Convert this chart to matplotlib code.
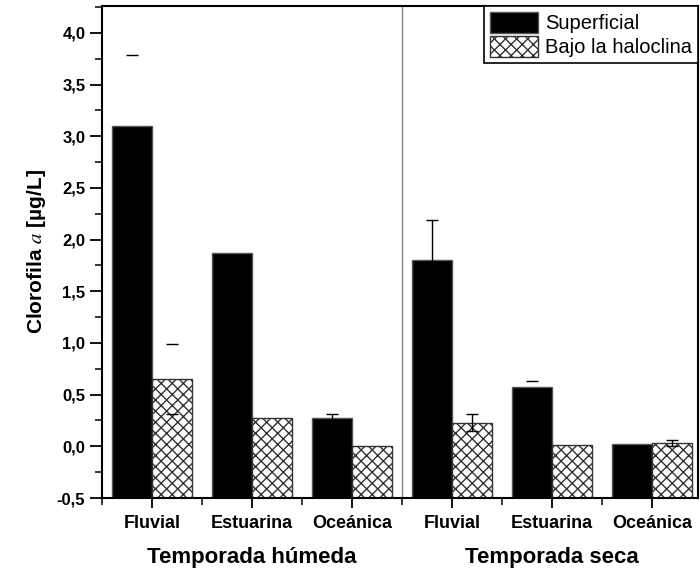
import matplotlib
matplotlib.use('Agg')
import matplotlib.pyplot as plt
from matplotlib.ticker import MultipleLocator, FixedLocator, FuncFormatter
import numpy as np

# chlorophyll a (ug/L) per zone, two seasons
zonas = ['Fluvial', 'Estuarina', 'Oceánica']
temporadas = ['Temporada húmeda', 'Temporada seca']

sup_humeda = [3.10, 1.875, 0.275]
sup_humeda_err = [0.69, 0.0, 0.04]
bajo_humeda = [0.65, 0.27, 0.0]
bajo_humeda_err = [0.34, 0.0, 0.0]

sup_seca = [1.80, 0.57, 0.02]
sup_seca_err = [0.39, 0.06, 0.0]
bajo_seca = [0.23, 0.01, 0.035]
bajo_seca_err = [0.08, 0.0, 0.03]

superficial = np.array(sup_humeda + sup_seca)
superficial_err = sup_humeda_err + sup_seca_err
bajo = np.array(bajo_humeda + bajo_seca)
bajo_err = bajo_humeda_err + bajo_seca_err

# error bars drawn only with caps (no stem) for these bars
sin_linea_sup = [0, 4]
sin_linea_bajo = [0]

plt.rcParams['font.family'] = ['Liberation Sans', 'DejaVu Sans']
plt.rcParams['mathtext.fontset'] = 'stix'
plt.rcParams['hatch.linewidth'] = 1.0
plt.rcParams['hatch.color'] = '#333333'

fig = plt.figure(figsize=(7, 5.75), dpi=100)
ax = fig.add_axes([0.1457, 0.1339, 0.8513, 0.8557])

x = np.arange(1, len(superficial) + 1)
w = 0.4
base = -0.5  # bars start at the bottom of the axis

ax.bar(x - w, superficial - base, bottom=base, width=w, align='edge',
       color='black', edgecolor='#555555', linewidth=1, label='Superficial',
       zorder=2)
ax.bar(x, bajo - base, bottom=base, width=w, align='edge', color='white',
       hatch='xxx', edgecolor='#333333', linewidth=1,
       label='Bajo la haloclina', zorder=2)


def barras_error(xs, ys, errs, sin_linea):
    for i, (xi, yi, ei) in enumerate(zip(xs, ys, errs)):
        if ei <= 0:
            continue
        lw = 0 if i in sin_linea else 1
        ax.errorbar(xi, yi, yerr=ei, fmt='none', ecolor='black',
                    elinewidth=lw, capsize=4, capthick=1, zorder=3)


barras_error(x - w / 2, superficial, superficial_err, sin_linea_sup)
barras_error(x + w / 2, bajo, bajo_err, sin_linea_bajo)

# season separator
ax.axvline(3.5, color='#888888', linewidth=1, zorder=1)

ax.set_xlim(0.5, 6.46)
ax.set_ylim(-0.5, 4.26)

ax.yaxis.set_major_locator(MultipleLocator(0.5))
ax.yaxis.set_minor_locator(MultipleLocator(0.25))
ax.yaxis.set_major_formatter(FuncFormatter(lambda v, p: f'{v:.1f}'.replace('.', ',')))

ax.set_xticks(x)
ax.set_xticklabels(zonas * 2)
ax.xaxis.set_minor_locator(FixedLocator([0.5, 1.5, 2.5, 3.5, 4.5, 5.5]))

ax.tick_params(axis='y', which='major', direction='out', length=9, width=1.3,
               labelsize=12, pad=3)
ax.tick_params(axis='y', which='minor', direction='out', length=5, width=1.1)
ax.tick_params(axis='x', which='major', direction='out', length=7, width=1.3,
               labelsize=13, pad=5)
ax.tick_params(axis='x', which='minor', direction='out', length=5, width=1.1)
for lbl in ax.get_xticklabels() + ax.get_yticklabels():
    lbl.set_fontweight('bold')

for s in ax.spines.values():
    s.set_color('black')
    s.set_linewidth(1.5)

ax.set_ylabel('Clorofila $\\mathit{a}$ [µg/L]', fontsize=15, fontweight='bold',
              labelpad=6)

for k, t in enumerate(temporadas):
    ax.text(2 + 3 * k, -0.12, t, transform=ax.get_xaxis_transform(),
            ha='center', va='center', fontsize=16, fontweight='bold')

leg = ax.legend(loc='upper right', fontsize=14.5, frameon=True, fancybox=False,
                edgecolor='black', framealpha=1, borderaxespad=0,
                borderpad=0.3, labelspacing=0.15, handlelength=2.35,
                handleheight=1.2, handletextpad=0.35)
leg.get_frame().set_linewidth(1.2)

plt.savefig('out.png', dpi=100)
